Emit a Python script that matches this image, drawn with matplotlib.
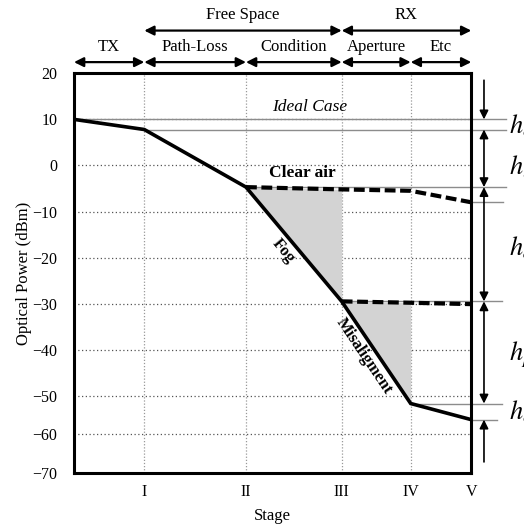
import numpy as np
import matplotlib
matplotlib.use("Agg")
import matplotlib.pyplot as plt

plt.rcParams['font.family'] = ['Liberation Serif', 'DejaVu Serif']
plt.rcParams['mathtext.fontset'] = 'stix'

# stage positions along x (stages are not evenly spaced in the figure)
stage_pos = [0, 0.703, 1.72, 2.677, 3.367, 3.973]
stage_labels = ['', 'I', 'II', 'III', 'IV', 'V']

# power levels (dBm)
power_main = [10, 7.8, -4.7, -29.5, -52, -56.2]   # fog + misalignment path
clear_air = [-4.7, -5.2, -5.5, -8.0]               # stages II..V
aligned = [-29.5, -29.8, -30.1]                    # stages III..V
ideal = 10

# header spans (start stage, end stage, label)
spans_low = [(0, 1, 'TX'), (1, 2, 'Path-Loss'), (2, 3, 'Condition'),
             (3, 4, 'Aperture'), (4, 5, 'Etc')]
spans_high = [(1, 3, 'Free Space'), (3, 5, 'RX')]

h_labels = ['$h_e$', '$h_l$', '$h_a$', '$h_p$', '$h_e$']
h_label_y = [8.6, -0.3, -17.8, -41.0, -54.2]


# y axis in the figure is compressed below -50
def fwd(v):
    v = np.asarray(v, dtype=float)
    return np.where(v >= -50, 77 + (v + 50) * 323 / 70, (v + 70) * 77 / 20)


def inv(p):
    p = np.asarray(p, dtype=float)
    return np.where(p >= 77, (p - 77) * 70 / 323 - 50, p * 20 / 77 - 70)


fig = plt.figure(figsize=(5.24, 5.24), dpi=100)
ax = fig.add_axes([0.1412, 0.0979, 0.7582, 0.7622])
ax.set_yscale('function', functions=(fwd, inv))

xs = np.array(stage_pos)

# shaded losses
ax.fill_between(xs[2:4], clear_air[:2], power_main[2:4], color='#d3d3d3', lw=0)
ax.fill_between(xs[3:5], aligned[:2], power_main[3:5], color='#d3d3d3', lw=0)

# thin gray reference levels extending to the right
ext = 0.35
ref_starts = [0, 1, 2, 3, 4, 5]
for i, lvl in zip(ref_starts, power_main):
    end = stage_pos[-1] + (ext if i < 3 else 0.31)
    if i == 5:
        end = stage_pos[-1] + 0.26
    ax.plot([stage_pos[i], end], [lvl, lvl], color='#8c8c8c', lw=1.0,
            clip_on=False, zorder=2)
ax.plot([stage_pos[-1], stage_pos[-1] + 0.32], [clear_air[-1]] * 2,
        color='#8c8c8c', lw=1.0, clip_on=False, zorder=2)

# curves
ax.plot(xs, power_main, color='black', lw=2.6, zorder=4, solid_joinstyle='miter')
ax.plot(xs[2:], clear_air, color='black', lw=3, dashes=(2.6, 1.1), zorder=4)
ax.plot(xs[3:], aligned, color='black', lw=3, dashes=(2.6, 1.1), zorder=4)

# texts inside the plot
ax.text(2.36, 12.6, 'Ideal Case', style='italic', fontsize=12.5,
        ha='center', va='center')
ax.text(2.28, -1.7, 'Clear air', weight='bold', fontsize=12.5,
        ha='center', va='center')
ax.text(2.09, -18.6, 'Fog', weight='bold', fontsize=12, rotation=-50,
        rotation_mode='anchor', ha='center', va='center')
ax.text(2.90, -41.3, 'Misaligment', weight='bold', fontsize=12, rotation=-56,
        rotation_mode='anchor', ha='center', va='center')

# axes styling
ax.set_xlim(stage_pos[0], stage_pos[-1])
ax.set_ylim(-70, 20)
ax.set_yticks(range(-70, 21, 10))
ax.set_xticks(stage_pos[1:])
ax.set_xticklabels(stage_labels[1:])
ax.tick_params(axis='both', length=0, labelsize=11.5)
ax.tick_params(axis='y', pad=12)
ax.tick_params(axis='x', pad=8)
ax.yaxis.grid(True, linestyle=(0, (1, 2)), color='#555555', lw=0.9)
ax.xaxis.grid(True, linestyle=(0, (1, 1.5)), color='#999999', lw=0.9)
ax.set_axisbelow(True)
for s in ax.spines.values():
    s.set_linewidth(2.2)
ax.set_xlabel('Stage', fontsize=12, labelpad=6)
ax.set_ylabel('Optical Power (dBm)', fontsize=12, labelpad=0)

# header arrows above the plot
trans = ax.get_xaxis_transform()
head = dict(arrowstyle='<|-|>', lw=1.6, color='black', shrinkA=0, shrinkB=0,
            mutation_scale=14)
for a, b, lab in spans_low:
    ax.annotate('', xy=(stage_pos[b], 1.028), xytext=(stage_pos[a], 1.028),
                xycoords=trans, textcoords=trans, arrowprops=head,
                annotation_clip=False)
    ax.text((stage_pos[a] + stage_pos[b]) / 2, 1.065, lab, transform=trans,
            ha='center', va='center', fontsize=12)
for a, b, lab in spans_high:
    ax.annotate('', xy=(stage_pos[b], 1.107), xytext=(stage_pos[a], 1.107),
                xycoords=trans, textcoords=trans, arrowprops=head,
                annotation_clip=False)
    ax.text((stage_pos[a] + stage_pos[b]) / 2, 1.145, lab, transform=trans,
            ha='center', va='center', fontsize=12)

# dimension arrows on the right
xa = 4.10
one = dict(arrowstyle='-|>', lw=1.2, color='black', shrinkA=0, shrinkB=0,
           mutation_scale=13)
two = dict(one, arrowstyle='<|-|>')
ax.annotate('', xy=(xa, power_main[0]), xytext=(xa, 18.5), arrowprops=one,
            annotation_clip=False)
for top, bot in zip(power_main[1:4], power_main[2:5]):
    ax.annotate('', xy=(xa, bot), xytext=(xa, top), arrowprops=two,
                annotation_clip=False)
ax.annotate('', xy=(xa, power_main[5]), xytext=(xa, -67.2), arrowprops=one,
            annotation_clip=False)
for lab, yy in zip(h_labels, h_label_y):
    ax.text(4.35, yy, lab, fontsize=19, ha='left', va='center', clip_on=False)

fig.savefig('out.png', dpi=100)
